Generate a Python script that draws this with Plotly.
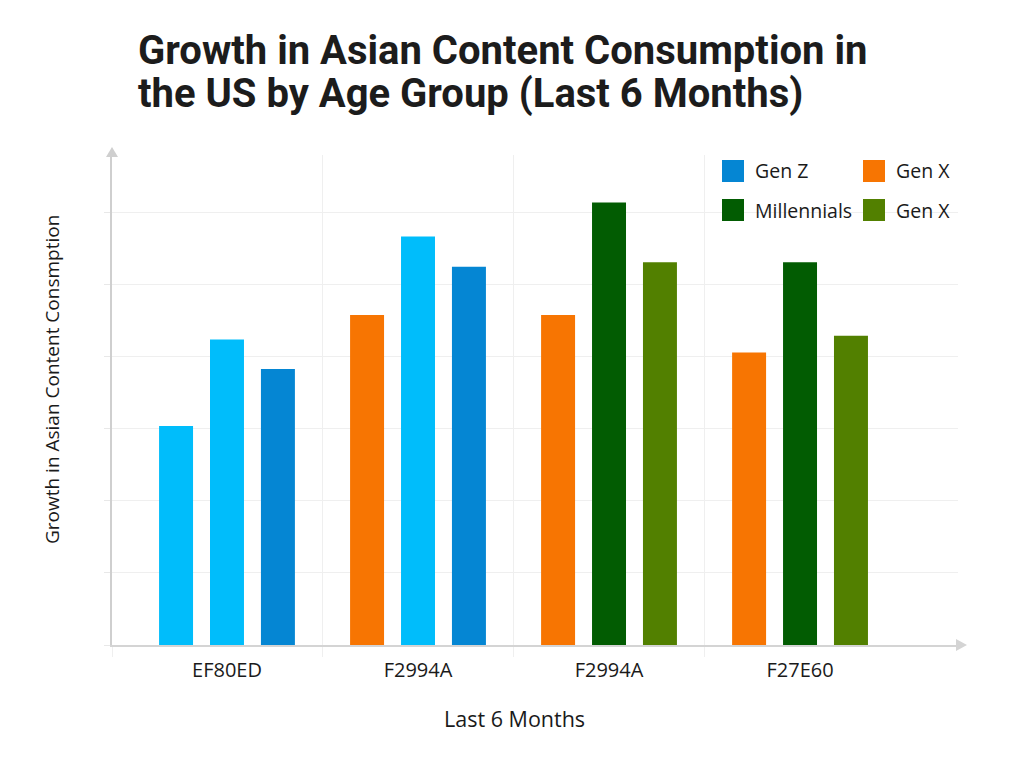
import plotly.graph_objects as go

# ---- data ----
categories = ["EF80ED", "F2994A", "F2994A", "F27E60"]
first_bar = [30.4, 45.8, 45.8, 40.6]
second_bar = [42.4, 56.7, 61.4, 53.1]
third_bar = [38.3, 52.5, 53.1, 42.9]
first_series = ["Gen Z (light)", "Gen X", "Gen X", "Gen X"]
second_series = ["Gen Z (light)", "Gen Z (light)", "Millennials", "Millennials"]
third_series = ["Gen Z", "Gen Z", "Gen X (green)", "Gen X (green)"]
legend_labels = ["Gen Z", "Gen X", "Millennials", "Gen X"]
legend_keys = ["Gen Z", "Gen X", "Millennials", "Gen X (green)"]
title_lines = ["Growth in Asian Content Consumption in", "the US by Age Group (Last 6 Months)"]
x_title = "Last 6 Months"
y_title = "Growth in Asian Content Consmption"

# ---- style ----
COLORS = {
    "Gen Z (light)": "#00BDFB",
    "Gen Z": "#0586D3",
    "Gen X": "#F77502",
    "Millennials": "#025C02",
    "Gen X (green)": "#528000",
}
W, H = 1024, 768
L, R, T, B = 112, 66, 155, 123
PW, PH = W - L - R, H - T - B
FONT = "Open Sans"


def px(x):
    return (x - L) / PW


def py(y):
    return (H - B - y) / PH


idx = list(range(len(categories)))
fig = go.Figure()
for vals, ser in [(first_bar, first_series), (second_bar, second_series), (third_bar, third_series)]:
    fig.add_trace(go.Bar(
        x=idx, y=vals,
        marker=dict(color=[COLORS[s] for s in ser], line=dict(width=0)),
        showlegend=False, hoverinfo="x+y",
    ))

shapes = []
annotations = []
# legend (2 x 2)
leg_pos = [(722, 171), (863, 171), (722, 210), (863, 210)]
for (lx, ly), lab, key in zip(leg_pos, legend_labels, legend_keys):
    shapes.append(dict(type="rect", xref="paper", yref="paper",
                       x0=px(lx), x1=px(lx + 22), y0=py(ly - 11), y1=py(ly + 11),
                       fillcolor=COLORS[key], line=dict(width=0)))
    annotations.append(dict(xref="paper", yref="paper", x=px(lx + 31), y=py(ly),
                            xanchor="left", yanchor="middle", showarrow=False,
                            text=lab, font=dict(family=FONT, size=19.5, color="#1a1a1a")))

# axis arrows
shapes.append(dict(type="path", xref="paper", yref="paper",
                   xsizemode="pixel", ysizemode="pixel", xanchor=0, yanchor=1,
                   path="M -6,-2 L 6,-2 L 0,8 Z", fillcolor="#cfcfcf", line=dict(width=0)))
shapes.append(dict(type="path", xref="paper", yref="paper",
                   xsizemode="pixel", ysizemode="pixel", xanchor=1, yanchor=0,
                   path="M -2,6 L -2,-6 L 9,0 Z", fillcolor="#d4d4d4", line=dict(width=0)))

# title (two lines)
for i, line in enumerate(title_lines):
    annotations.append(dict(xref="paper", yref="paper", x=px(136), y=py(51 + 42 * i),
                            xanchor="left", yanchor="middle", showarrow=False,
                            text="<b>" + line + "</b>",
                            font=dict(family="Roboto", size=40, color="#1c1c1c")))

# axis titles
annotations.append(dict(xref="paper", yref="paper", x=px(514), y=py(718),
                        xanchor="center", yanchor="middle", showarrow=False,
                        text=x_title, font=dict(family=FONT, size=21.5, color="#1a1a1a")))
annotations.append(dict(xref="paper", yref="paper", x=px(52), y=py(380),
                        xanchor="center", yanchor="middle", showarrow=False, textangle=-90,
                        text=y_title, font=dict(family=FONT, size=19, color="#1a1a1a")))

fig.update_layout(
    width=W, height=H,
    margin=dict(l=L, r=R, t=T, b=B, autoexpand=False),
    paper_bgcolor="#ffffff", plot_bgcolor="#ffffff",
    barmode="group", bargap=0.2, bargroupgap=0.333,
    shapes=shapes, annotations=annotations,
    showlegend=False,
)
fig.update_xaxes(
    range=[-0.602, 3.827], tickvals=idx, ticktext=categories,
    showgrid=False, zeroline=False, showline=True, linecolor="#d4d4d4", linewidth=2,
    ticks="", ticklabelstandoff=6, tickfont=dict(family=FONT, size=20, color="#1a1a1a"),
    minor=dict(tickvals=[-0.602, 0.5, 1.5, 2.5], showgrid=True, gridcolor="#efefef", gridwidth=1,
               ticks="outside", ticklen=10, tickcolor="#efefef"),
)
fig.update_yaxes(
    range=[0, 68], dtick=10, showticklabels=False,
    showgrid=True, gridcolor="#efefef", gridwidth=1, zeroline=False,
    showline=True, linecolor="#cfcfcf", linewidth=2,
    ticks="outside", ticklen=6, tickcolor="#e8e8e8",
)

fig.write_html("out.html")
